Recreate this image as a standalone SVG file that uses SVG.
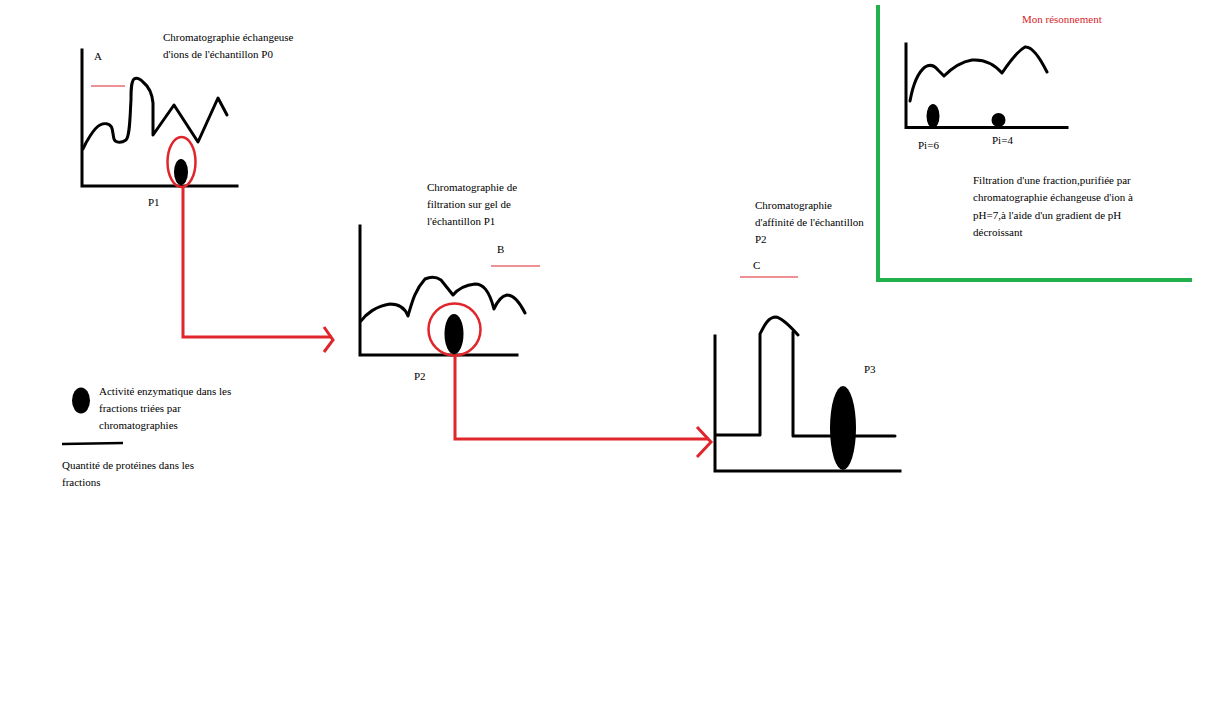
<svg xmlns="http://www.w3.org/2000/svg" width="1218" height="705" viewBox="0 0 1218 705">
<style>
text{font-family:"Liberation Serif","DejaVu Serif",serif;font-size:11px;fill:#000}
.red{fill:#d8242b}
.ax{stroke:#000;stroke-width:3;fill:none;stroke-linecap:square}
.cv{stroke:#000;stroke-width:3;fill:none;stroke-linejoin:round;stroke-linecap:round}
.rl{stroke:#e0252b;stroke-width:1.2;fill:none}
.conn{stroke:#e0252b;stroke-width:3;fill:none}
.ring{stroke:#e0252b;stroke-width:2.5;fill:none}
.dot{fill:#000}
.grn{stroke:#22b14c;stroke-width:4;fill:none}
</style>
<rect width="1218" height="705" fill="#fff"/>

<g id="chartA">
<path class="ax" d="M82,50 V186 H237"/>
<path class="cv" d="M83,149 C86,142 94,128 100,125 C104,123 109,123 111.5,127 C113,130 113,136 114,139 C115,142 120,144 126,140 C130,136 130,115 131,100 C131,90 131,82 134,79 C137,77 140,79 143,82 C148,86 152,92 153,103 L153,135 L174,105 L198,142 L218,98 L227,115"/>
<text x="94" y="60">A</text>
<path class="rl" d="M91,86 H125"/>
<ellipse class="dot" cx="181" cy="172" rx="7" ry="13"/>
<ellipse class="ring" cx="181.5" cy="162" rx="14" ry="25"/>
<text x="148" y="206">P1</text>
<text x="163" y="41">Chromatographie échangeuse</text>
<text x="163" y="58">d'ions de l'échantillon P0</text>
</g>

<g id="chartB">
<path class="ax" d="M360,226 V355 H517"/>
<path class="cv" d="M361,321 C366,314 376,306 390,304 C398,304 405,308 408,316 C412,302 415,290 425,279 C432,276 438,278 441,280 L453,295 C458,289 465,285 475,284 C483,284 489,290 494,309 C497,302 502,296 507,295 C514,295 520,303 525,313"/>
<text x="497" y="253">B</text>
<path class="rl" d="M491,266 H540"/>
<ellipse class="dot" cx="454" cy="334" rx="9.5" ry="20"/>
<circle class="ring" cx="454.5" cy="329.5" r="26"/>
<text x="414" y="380">P2</text>
<text x="427" y="191">Chromatographie de</text>
<text x="427" y="208">filtration sur gel de</text>
<text x="427" y="225">l'échantillon P1</text>
</g>

<g id="chartC">
<path class="ax" d="M715,336 V471 H900"/>
<path class="cv" d="M716,435 H760 V334 C764,326 768,317 776,317 C782,318 790,326 798,335"/>
<path class="cv" d="M793,332 V436 H895"/>
<ellipse class="dot" cx="843" cy="428" rx="13" ry="42"/>
<text x="864" y="373">P3</text>
<text x="755" y="209">Chromatographie</text>
<text x="755" y="226">d'affinité de l'échantillon</text>
<text x="755" y="243">P2</text>
<text x="753" y="269">C</text>
<path class="rl" d="M740,277 H798"/>
</g>

<g id="reasoning">
<path class="grn" d="M878,5 V280 H1192"/>
<text class="red" x="1022" y="23">Mon résonnement</text>
<path class="ax" d="M906,44 V127.5 H1067"/>
<path class="cv" d="M910,101 C912,90 916,74 925,67 C930,64 934,65 938,70 L944,76 C950,70 960,62 972,60 C985,59 995,65 1002,73 C1008,64 1016,52 1025,47 C1032,46 1040,58 1047,72"/>
<ellipse class="dot" cx="933" cy="116" rx="6.5" ry="12"/>
<circle class="dot" cx="998.5" cy="120" r="7"/>
<text x="918" y="149">Pi=6</text>
<text x="992" y="144">Pi=4</text>
<text x="973" y="184">Filtration d'une fraction,purifiée par</text>
<text x="973" y="201">chromatographie échangeuse d'ion à</text>
<text x="973" y="219">pH=7,à l'aide d'un gradient de pH</text>
<text x="973" y="236">décroissant</text>
</g>

<g id="legend">
<ellipse class="dot" cx="81" cy="400.5" rx="9" ry="13"/>
<text x="99" y="395">Activité enzymatique dans les</text>
<text x="99" y="412">fractions triées par</text>
<text x="99" y="429">chromatographies</text>
<path d="M62,444 L123,443" stroke="#000" stroke-width="2.5" fill="none"/>
<text x="62" y="469">Quantité de protéines dans les</text>
<text x="62" y="486">fractions</text>
</g>

<g id="connectors">
<path class="conn" d="M183,187 V337 H332"/>
<path class="conn" d="M324,327 L333,340 L324,352"/>
<path class="conn" d="M455,355 V439 H709"/>
<path class="conn" d="M697,427 L711,442 L697,457"/>
</g>
</svg>
